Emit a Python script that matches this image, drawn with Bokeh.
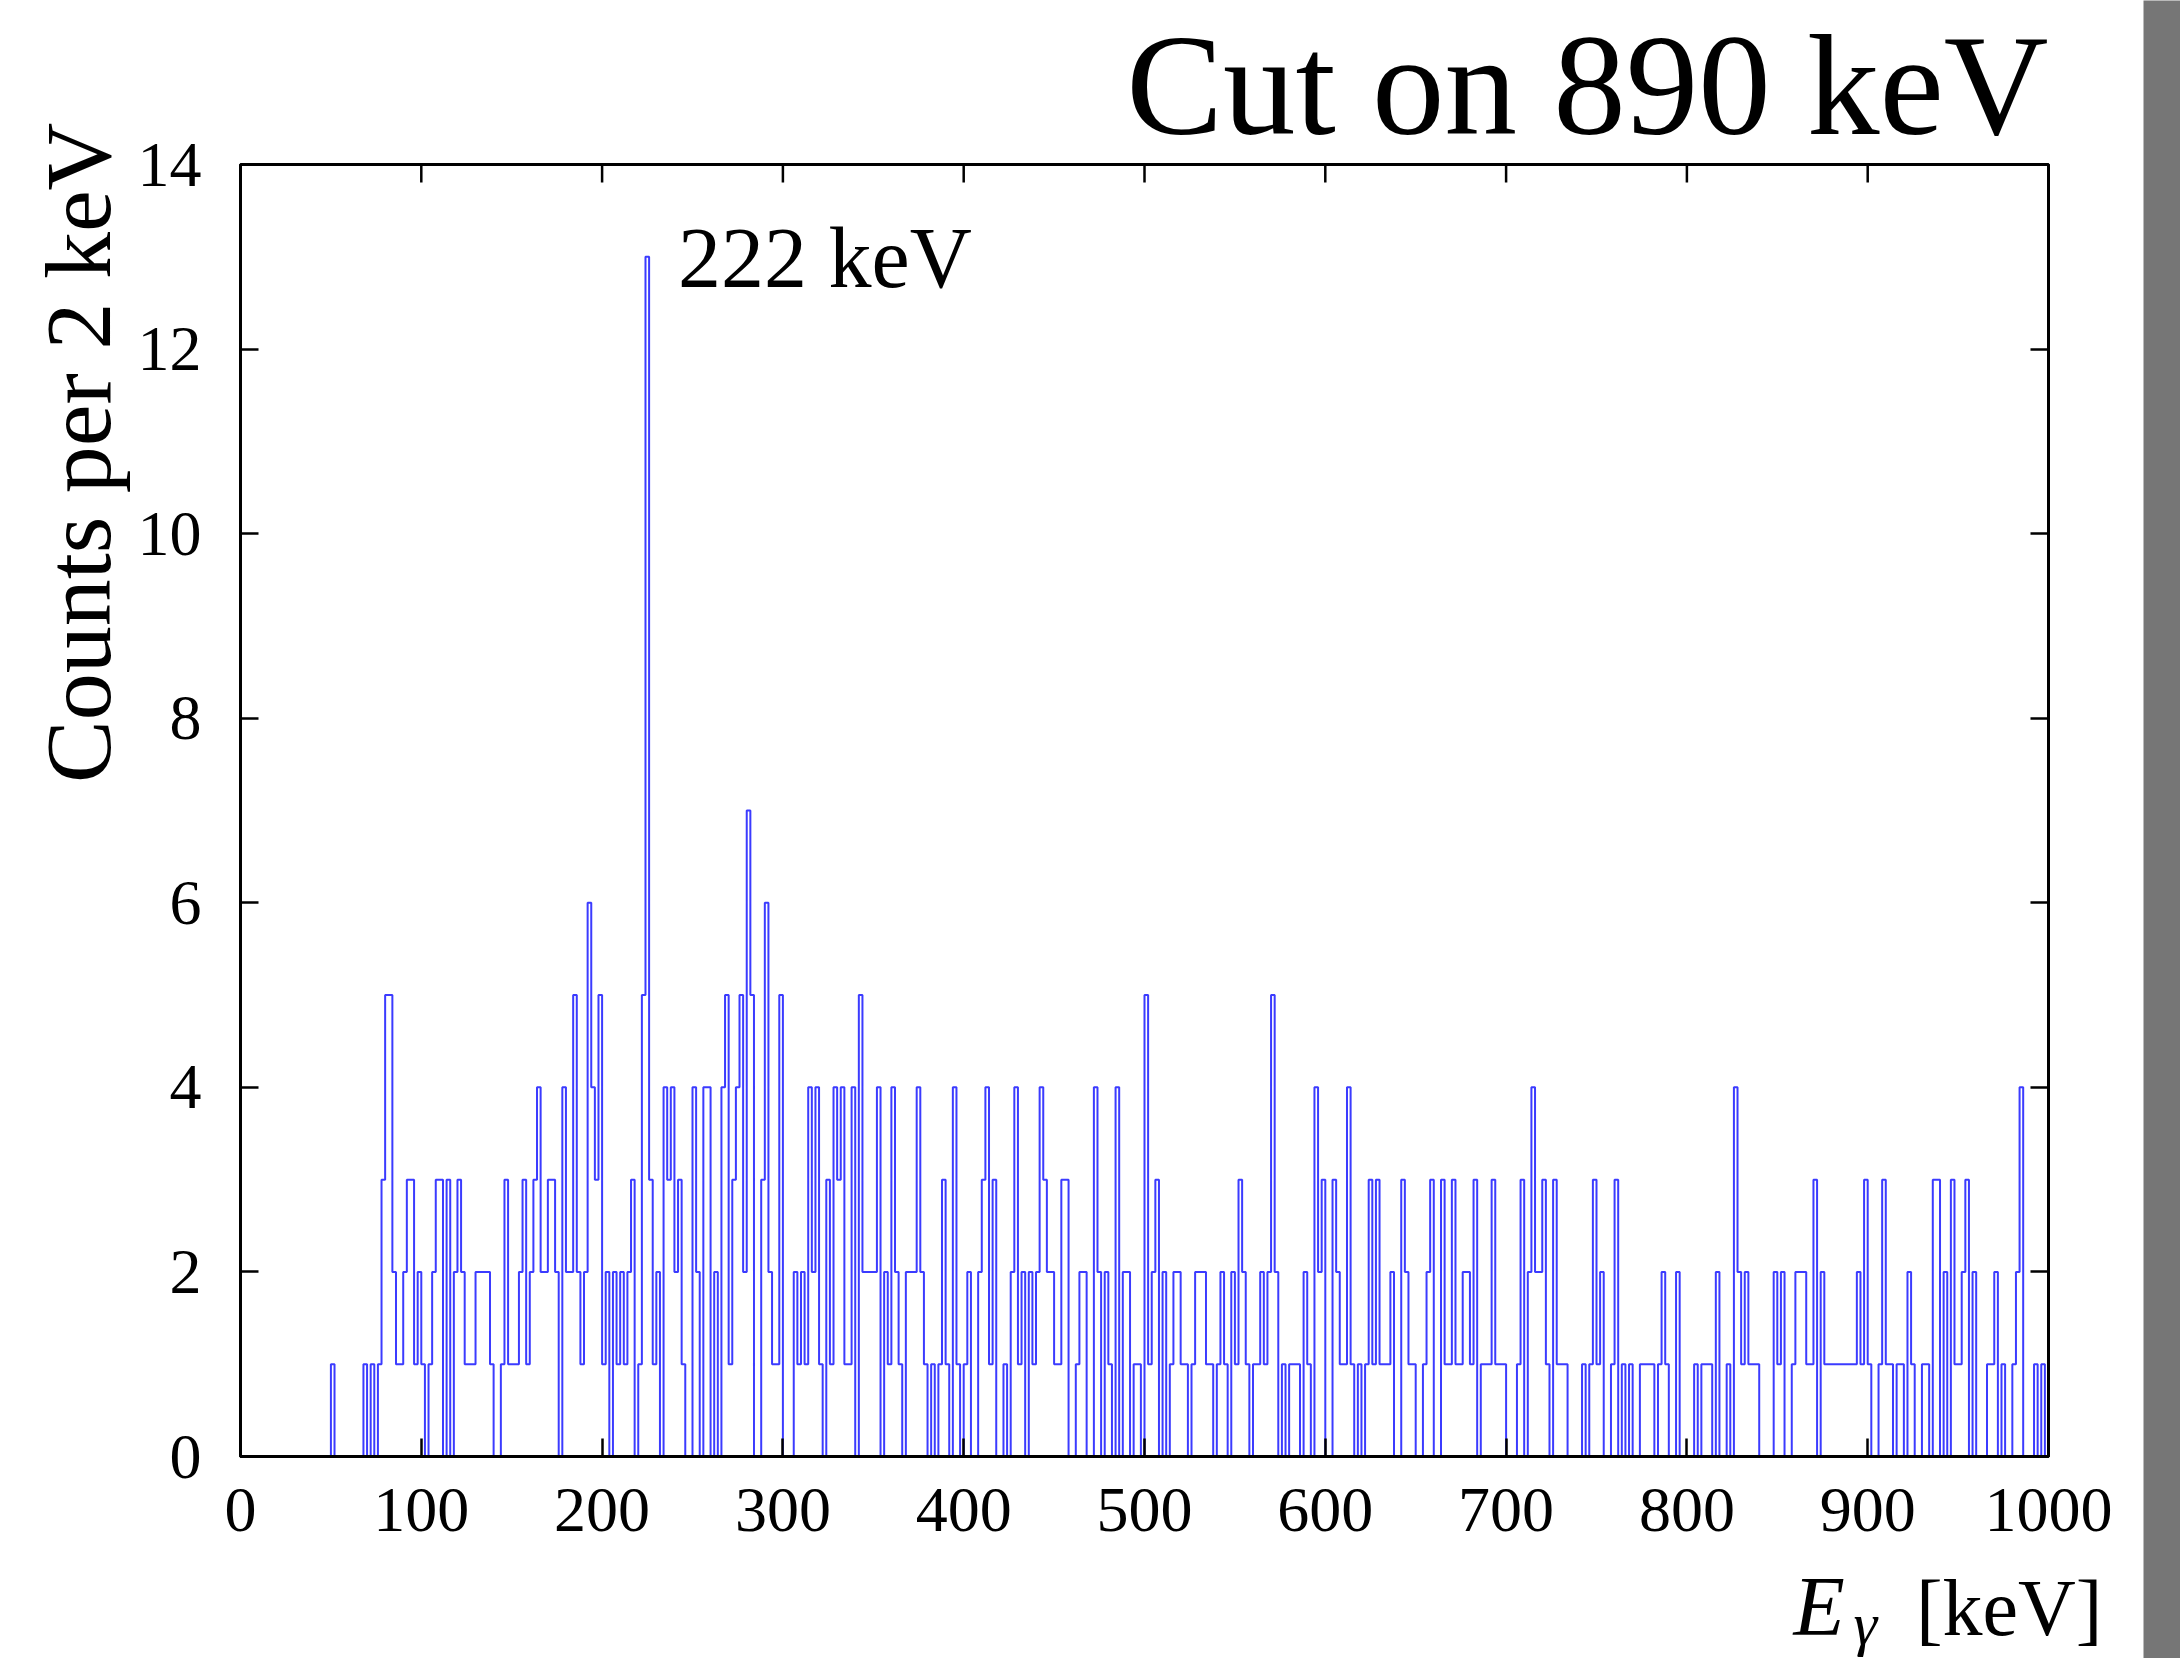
import numpy as np
from bokeh.plotting import figure
from bokeh.models import (Range1d, FixedTicker, LinearAxis, Label,
                          ColumnDataSource, CustomJSTickFormatter)
from bokeh.layouts import row, column
from bokeh.embed import file_html
from bokeh.resources import INLINE

# gamma spectrum gated on the 890 keV line, 2 keV bins from 0 to 1000 keV
BIN_WIDTH = 2
counts = (
    [0, 0, 0, 0, 0, 0, 0, 0, 0, 0] +   # 0-18
    [0, 0, 0, 0, 0, 0, 0, 0, 0, 0] +   # 20-38
    [0, 0, 0, 0, 0, 1, 0, 0, 0, 0] +   # 40-58
    [0, 0, 0, 0, 1, 0, 1, 0, 1, 3] +   # 60-78
    [5, 5, 2, 1, 1, 2, 3, 3, 1, 2] +   # 80-98
    [1, 0, 1, 2, 3, 3, 0, 3, 0, 2] +   # 100-118
    [3, 2, 1, 1, 1, 2, 2, 2, 2, 1] +   # 120-138
    [0, 0, 1, 3, 1, 1, 1, 2, 3, 1] +   # 140-158
    [2, 3, 4, 2, 2, 3, 3, 2, 0, 4] +   # 160-178
    [2, 2, 5, 2, 1, 2, 6, 4, 3, 5] +   # 180-198
    [1, 2, 0, 2, 1, 2, 1, 2, 3, 0] +   # 200-218
    [1, 5, 13, 3, 1, 2, 0, 4, 3, 4] +  # 220-238
    [2, 3, 1, 0, 0, 4, 2, 0, 4, 4] +   # 240-258
    [0, 2, 0, 4, 5, 1, 3, 4, 5, 2] +   # 260-278
    [7, 5, 0, 0, 3, 6, 2, 1, 1, 5] +   # 280-298
    [0, 0, 0, 2, 1, 2, 1, 4, 2, 4] +   # 300-318
    [1, 0, 3, 1, 4, 3, 4, 1, 1, 4] +   # 320-338
    [0, 5, 2, 2, 2, 2, 4, 0, 2, 1] +   # 340-358
    [4, 2, 1, 0, 2, 2, 2, 4, 2, 1] +   # 360-378
    [0, 1, 0, 1, 3, 1, 0, 4, 1, 0] +   # 380-398
    [1, 2, 0, 0, 2, 3, 4, 1, 3, 0] +   # 400-418
    [0, 1, 0, 2, 4, 1, 2, 0, 2, 1] +   # 420-438
    [2, 4, 3, 2, 2, 1, 1, 3, 3, 0] +   # 440-458
    [0, 1, 2, 2, 0, 0, 4, 2, 0, 2] +   # 460-478
    [1, 0, 4, 0, 2, 2, 0, 1, 1, 0] +   # 480-498
    [5, 1, 2, 3, 0, 2, 0, 1, 2, 2] +   # 500-518
    [1, 1, 0, 1, 2, 2, 2, 1, 1, 0] +   # 520-538
    [1, 2, 1, 0, 2, 1, 3, 2, 1, 0] +   # 540-558
    [1, 1, 2, 1, 2, 5, 2, 0, 1, 0] +   # 560-578
    [1, 1, 1, 0, 2, 1, 0, 4, 2, 3] +   # 580-598
    [0, 0, 3, 2, 1, 1, 4, 1, 0, 1] +   # 600-618
    [0, 1, 3, 1, 3, 1, 1, 1, 2, 0] +   # 620-638
    [0, 3, 2, 1, 1, 0, 0, 1, 2, 3] +   # 640-658
    [0, 0, 3, 1, 1, 3, 1, 1, 2, 2] +   # 660-678
    [1, 3, 0, 1, 1, 1, 3, 1, 1, 1] +   # 680-698
    [0, 0, 0, 1, 3, 0, 2, 4, 2, 2] +   # 700-718
    [3, 1, 0, 3, 1, 1, 1, 0, 0, 0] +   # 720-738
    [0, 1, 0, 1, 3, 1, 2, 0, 0, 1] +   # 740-758
    [3, 0, 1, 0, 1, 0, 0, 1, 1, 1] +   # 760-778
    [1, 0, 1, 2, 1, 0, 0, 2, 0, 0] +   # 780-798
    [0, 0, 1, 0, 1, 1, 1, 0, 2, 0] +   # 800-818
    [0, 1, 0, 4, 2, 1, 2, 1, 1, 1] +   # 820-838
    [0, 0, 0, 0, 2, 1, 2, 0, 0, 1] +   # 840-858
    [2, 2, 2, 1, 1, 3, 0, 2, 1, 1] +   # 860-878
    [1, 1, 1, 1, 1, 1, 1, 2, 1, 3] +   # 880-898
    [1, 0, 0, 1, 3, 1, 1, 0, 1, 1] +   # 900-918
    [0, 2, 1, 0, 0, 1, 1, 0, 3, 3] +   # 920-938
    [0, 2, 0, 3, 1, 1, 2, 3, 0, 2] +   # 940-958
    [0, 0, 0, 1, 1, 2, 0, 1, 0, 0] +   # 960-978
    [1, 2, 4, 0, 0, 0, 1, 0, 1, 0]     # 980-998
)

x_ticks = [0, 100, 200, 300, 400, 500, 600, 700, 800, 900, 1000]
y_ticks = [0, 2, 4, 6, 8, 10, 12, 14]

title_text = "Cut on 890 keV"
y_title = "Counts per 2 keV"
x_title_symbol = "E"
x_title_index = "γ"
x_title_unit = "[keV]"
peak_text = "222 keV"
peak_energy = 222

FONT = "Liberation Serif"
LINE_BLUE = "#3b3bff"

# page geometry (pixels)
PAGE_W, PAGE_H = 2180, 1658
LEFT_W = 130          # column holding the vertical axis title
STRIP_W = 37          # grey page edge on the right
MID_W = PAGE_W - LEFT_W - STRIP_W
BOTTOM_H = 102
MAIN_H = PAGE_H - BOTTOM_H


def text_box(width, height, x0, y0):
    """A bare figure whose data units are page pixels (y measured downwards as -y)."""
    f = figure(width=width, height=height,
               x_range=Range1d(x0, x0 + width), y_range=Range1d(-(y0 + height), -y0),
               x_axis_location=None, y_axis_location=None,
               output_backend="svg", toolbar_location=None,
               min_border=0, min_border_left=0, min_border_right=0,
               min_border_top=0, min_border_bottom=0)
    f.frame_align = False
    f.grid.visible = False
    f.outline_line_color = None
    f.background_fill_color = "white"
    f.border_fill_color = "white"
    return f


def add_text(f, x, baseline, text, size, align="left", angle=0.0, italic=False):
    # labels are anchored at the middle of the glyph box
    style = "italic" if italic else "normal"
    if angle:
        f.add_layout(Label(x=x - 0.33 * size, y=-baseline, text=text, angle=angle,
                           text_font=FONT, text_font_size=f"{size}px",
                           text_font_style=style, text_color="black",
                           text_align=align, text_baseline="middle"))
    else:
        f.add_layout(Label(x=x, y=-(baseline - 0.33 * size), text=text,
                           text_font=FONT, text_font_size=f"{size}px",
                           text_font_style=style, text_color="black",
                           text_align=align, text_baseline="middle"))


# ---- main histogram -------------------------------------------------------
edges = np.arange(0, 1000 + BIN_WIDTH, BIN_WIDTH)
step_y = counts + [counts[-1]]
src = ColumnDataSource(data=dict(x=edges, y=step_y))

p = figure(width=MID_W, height=MAIN_H, title=title_text,
           x_range=Range1d(0, 1000), y_range=Range1d(0, 14),
           output_backend="svg", toolbar_location=None,
           min_border_left=110, min_border_right=95,
           min_border_top=164, min_border_bottom=MAIN_H - 1456)
p.frame_align = False

p.title.align = "right"
p.title.text_font = FONT
p.title.text_font_size = "145px"
p.title.text_font_style = "normal"
p.title.text_color = "black"
p.title.standoff = 0

p.background_fill_color = "white"
p.border_fill_color = "white"
p.outline_line_color = "black"
p.outline_line_width = 3
p.grid.visible = False

p.step(x="x", y="y", source=src, mode="after",
       line_color=LINE_BLUE, line_width=2)


def style_axis(ax, ticks):
    ax.ticker = FixedTicker(ticks=ticks)
    ax.axis_line_color = "black"
    ax.axis_line_width = 3
    ax.major_tick_in = 18
    ax.major_tick_out = 0
    ax.minor_tick_in = 0
    ax.minor_tick_out = 0
    ax.major_tick_line_width = 2.5
    ax.major_tick_line_color = "black"
    ax.major_label_text_font = FONT
    ax.major_label_text_font_size = "64px"
    ax.major_label_text_color = "black"


style_axis(p.xaxis[0], x_ticks)
style_axis(p.yaxis[0], y_ticks)
p.xaxis[0].major_label_standoff = 32
p.yaxis[0].major_label_standoff = 39

right_axis = LinearAxis(formatter=CustomJSTickFormatter(code="return ''"))
style_axis(right_axis, y_ticks)
right_axis.major_label_text_font_size = "1px"
p.add_layout(right_axis, "right")

# inward ticks along the top edge of the frame
p.ray(x=x_ticks, y=[p.y_range.end] * len(x_ticks), length=18, length_units="screen",
      angle=-np.pi / 2, line_color="black", line_width=2.5)

# peak annotation, placed in data units
p.add_layout(Label(x=peak_energy + 20, y=12.99, text=peak_text,
                   text_font=FONT, text_font_size="86px", text_color="black",
                   text_align="left", text_baseline="middle"))

# ---- surrounding texts ----------------------------------------------------
left_fig = text_box(LEFT_W, PAGE_H, 0, 0)
add_text(left_fig, 109, 122, y_title, 94, align="right", angle=np.pi / 2)

bottom_fig = text_box(MID_W, BOTTOM_H, LEFT_W, PAGE_H - BOTTOM_H)
add_text(bottom_fig, 1793, 1634, x_title_symbol, 84, italic=True)
add_text(bottom_fig, 1853, 1643, x_title_index, 60, italic=True)
add_text(bottom_fig, 2102, 1634, x_title_unit, 80, align="right")

# grey page edge on the right
strip = figure(width=STRIP_W, height=PAGE_H, x_range=Range1d(0, 1), y_range=Range1d(0, 1),
               x_axis_location=None, y_axis_location=None,
               output_backend="svg", toolbar_location=None, min_border=0)
strip.frame_align = False
strip.grid.visible = False
strip.outline_line_color = None
strip.background_fill_color = "#767676"
strip.border_fill_color = "#767676"

layout = row(left_fig, column(p, bottom_fig), strip)
open("out.html", "w").write(file_html(layout, INLINE))
